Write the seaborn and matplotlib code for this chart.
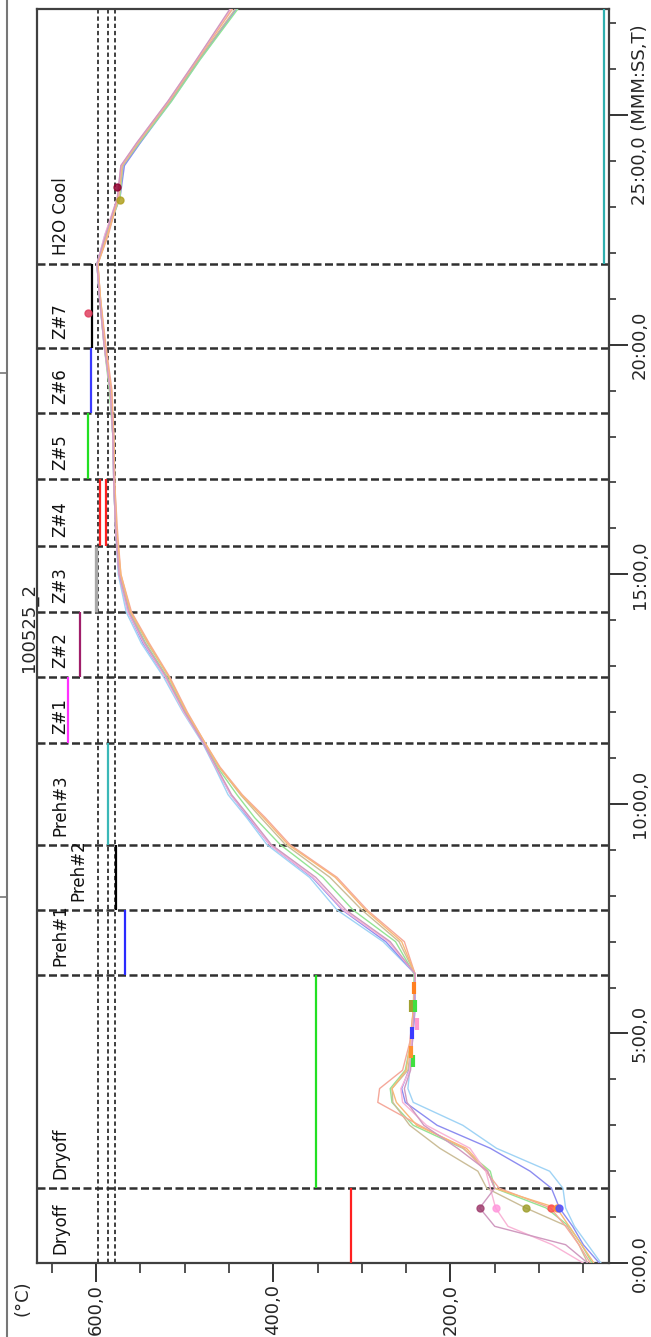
import numpy as np
import pandas as pd
import matplotlib
matplotlib.use("Agg")
import matplotlib.pyplot as plt
from matplotlib.ticker import MultipleLocator, FuncFormatter
from matplotlib.lines import Line2D
import seaborn as sns

# time axis in minutes, temperature in degC (chart is drawn turned on its side)
time_min = [0, 0.4, 0.8, 1.2, 1.63, 2.0, 2.5, 3.0, 3.5, 3.8,
            4.2, 4.8, 5.5, 6.3, 7.0, 7.69, 8.4, 9.11, 9.7, 10.2,
            10.8, 11.33, 12.0, 12.77, 13.5, 14.18, 15.0, 16.0, 17.0, 18.0,
            19.0, 20.0, 21.0, 21.76, 22.4, 23.2, 23.9, 24.4, 25.3, 26.2, 27.31]

ch_lightblue = [30, 45, 60, 70, 73, 88, 148, 186, 242, 248,
                246, 244, 241, 240, 276, 328, 359, 407, 430, 451,
                466, 480, 502, 524, 549, 566, 575, 578, 580, 581,
                584, 591, 596, 599, 590, 574, 569, 550, 515, 483, 441]
ch_blue = [32, 50, 62, 77, 86, 110, 155, 215, 251, 255,
           247, 243, 240, 240, 273, 322, 356, 404, 428, 448,
           465, 479, 500, 522, 547, 564, 574, 578, 580, 581,
           584, 590, 596, 599, 589, 573, 568, 550, 516, 484, 442]
ch_green = [40, 52, 66, 92, 150, 155, 186, 242, 266, 268,
            251, 245, 242, 241, 262, 310, 344, 392, 421, 441,
            463, 478, 499, 520, 544, 562, 573, 578, 580, 581,
            585, 591, 596, 599, 588, 573, 570, 551, 515, 483, 440]
ch_tan = [45, 55, 68, 115, 159, 169, 212, 246, 265, 266,
          248, 244, 241, 240, 258, 300, 336, 386, 414, 437,
          461, 478, 498, 518, 542, 561, 573, 577, 579, 580,
          583, 590, 595, 598, 587, 574, 570, 552, 517, 485, 443]
ch_salmon = [42, 55, 70, 87, 145, 160, 185, 235, 282, 280,
             254, 246, 242, 240, 252, 294, 328, 381, 409, 435,
             460, 477, 497, 517, 540, 560, 572, 576, 579, 580,
             582, 589, 595, 598, 586, 575, 571, 553, 518, 486, 446]
ch_orange = [38, 52, 66, 80, 150, 158, 182, 238, 261, 266,
             250, 245, 242, 240, 255, 296, 330, 383, 411, 436,
             461, 477, 498, 518, 541, 561, 572, 577, 579, 580,
             583, 590, 595, 598, 587, 575, 571, 553, 518, 486, 447]
ch_pink = [50, 85, 135, 149, 155, 160, 178, 227, 254, 256,
           246, 244, 241, 240, 270, 321, 355, 404, 427, 448,
           465, 479, 501, 522, 546, 564, 574, 578, 580, 581,
           584, 591, 596, 599, 590, 576, 572, 554, 519, 487, 448]
ch_mauve = [45, 70, 150, 167, 150, 158, 192, 230, 249, 252,
            245, 243, 241, 240, 268, 318, 352, 402, 426, 447,
            464, 479, 500, 521, 545, 563, 574, 578, 580, 581,
            584, 591, 596, 599, 589, 576, 572, 554, 519, 487, 449]

channels = {"lightblue": ch_lightblue, "blue": ch_blue, "green": ch_green,
            "tan": ch_tan, "salmon": ch_salmon, "orange": ch_orange,
            "pink": ch_pink, "mauve": ch_mauve}
channel_colors = {"lightblue": "#9fd3f5", "blue": "#8c8cf0", "green": "#94e494",
                  "tan": "#cbbd98", "salmon": "#f5a89a", "orange": "#f8b878",
                  "pink": "#f9b4d6", "mauve": "#d09ac0"}

# furnace zones
zone_names = ["Dryoff", "Dryoff", "Preh#1", "Preh#2", "Preh#3", "Z#1", "Z#2",
              "Z#3", "Z#4", "Z#5", "Z#6", "Z#7", "H2O Cool"]
zone_start = [0, 1.63, 6.28, 7.69, 9.11, 11.33, 12.77, 14.18, 15.62, 17.08,
              18.52, 19.93, 21.76]
zone_end = zone_start[1:] + [27.31]
zone_setpoint = [312, 352, 567, 577, 587, 632, 618, 600, 596, 609, 606, 605, 27]
zone_color = ["#ff2020", "#22e022", "#2a2aff", "#000000", "#3ab8b8", "#ff30ff",
              "#a01e6a", "#a8a8a8", "#ff2020", "#22e022", "#3a3aff", "#000000", "#30b0b0"]
zone_label_temp = [640, 640, 640, 620, 640, 640, 640, 640, 640, 640, 640, 640, 640]
# Z#4 has a second (lower) setpoint line
z4_low = 589

ref_temps = [598, 587, 579]

# channel marker symbols
mark_time = [1.2, 1.2, 1.2, 1.2, 1.2, 1.2, 20.7, 23.44, 23.15]
mark_temp = [167, 149, 115, 87, 80, 77, 609, 576, 573]
mark_color = ["#a04070", "#ff99dd", "#a0a030", "#ff5050", "#ff9030", "#5050ff",
              "#e04060", "#900030", "#b0a020"]
dash_time = [4.4, 4.6, 5.0, 5.2, 5.6, 5.6, 6.0]
dash_temp = [242, 245, 243, 238, 245, 240, 241]
dash_color = ["#40e040", "#ff9030", "#3a3aff", "#ff99cc", "#a0a030", "#40e040", "#ff8020"]

rows = []
for name, vals in channels.items():
    for t, v in zip(time_min, vals):
        rows.append({"ch": name, "time": t, "temp": v})
df = pd.DataFrame(rows)

sns.set_style("white")
plt.rcParams["font.family"] = ["DejaVu Sans"]

fig = plt.figure(figsize=(6.51, 13.37), dpi=100)
ax = fig.add_axes([0.0564, 0.0553, 0.8791, 0.9379])

# zone boundaries and reference temperatures
for t in zone_start[1:]:
    ax.axhline(t, color="#303030", lw=1.8, ls=(0, (3.2, 1.4)), zorder=2)
for r in ref_temps:
    ax.axvline(r, color="#303030", lw=1.3, ls=(0, (2.4, 1.6)), zorder=2)

sns.lineplot(data=df, x="temp", y="time", hue="ch", palette=channel_colors,
             estimator=None, sort=False, orient="y", lw=1.0, legend=False,
             ax=ax, zorder=3)

# setpoints
widths = [1.6] * len(zone_names)
widths[7] = 2.4
ax.vlines(zone_setpoint, zone_start, zone_end, colors=zone_color,
          linewidths=widths, zorder=4)
ax.vlines([z4_low], [zone_start[8]], [zone_end[8]], colors=zone_color[8],
          linewidths=1.6, zorder=4)

for t, v, c in zip(mark_time, mark_temp, mark_color):
    ax.plot(v, t, "o", color=c, ms=5, mec=c, alpha=0.85, zorder=5)
for t, v, c in zip(dash_time, dash_temp, dash_color):
    ax.plot(v, t, "|", color=c, ms=9, mew=3, zorder=5)

for name, s, lt in zip(zone_names, zone_start, zone_label_temp):
    ax.text(lt, s + 0.2, name, rotation=90, rotation_mode="anchor",
            ha="left", va="center", fontsize=12, color="#111111", zorder=6)

ax.set_xlim(667, 21)
ax.set_ylim(0, 27.31)

ax.xaxis.set_major_locator(MultipleLocator(200))
ax.xaxis.set_minor_locator(MultipleLocator(50))
ax.xaxis.set_major_formatter(FuncFormatter(lambda v, p: f"{v:.1f}".replace(".", ",")))


def fmt_time(m, p):
    s = f"{int(m)}:{int(round((m % 1) * 60)):02d},0"
    if abs(m - 25) < 1e-6:
        s += " (MMM:SS,T)"
    return s


ax.yaxis.set_major_locator(MultipleLocator(5))
ax.yaxis.set_minor_locator(MultipleLocator(1))
ax.yaxis.set_major_formatter(FuncFormatter(fmt_time))
ax.yaxis.tick_right()

ax.tick_params(axis="x", which="major", bottom=True, top=False, length=14, width=1.4,
               direction="out", color="#333333", labelsize=13, labelrotation=90, pad=1)
ax.tick_params(axis="x", which="minor", bottom=True, top=False, length=7, width=1.2,
               direction="out", color="#333333")
ax.tick_params(axis="y", which="major", left=False, right=True, length=14, width=1.4,
               direction="out", color="#333333", labelsize=13, pad=1.5)
ax.tick_params(axis="y", which="minor", left=False, right=True, length=5, width=1.2,
               direction="out", color="#333333")
for lab in ax.get_yticklabels():
    lab.set_rotation(90)
    lab.set_va("center")

ax.set_xlabel("")
ax.set_ylabel("")
for sp in ax.spines.values():
    sp.set_visible(True)
    sp.set_color("#404040")
    sp.set_linewidth(1.6)

ax.text(-0.0135, 0.507, "100525_2", transform=ax.transAxes, rotation=90,
        ha="center", va="center", fontsize=13)
ax.text(-0.024, -0.028, "(\u00b0C)", transform=ax.transAxes, rotation=90,
        ha="center", va="center", fontsize=13)

# page frame on the far left
fig.add_artist(Line2D([7 / 651, 7 / 651], [0, 1], color="#777777", lw=1.5))
for yy in [373, 897]:
    fig.add_artist(Line2D([0, 7 / 651], [1 - yy / 1337] * 2, color="#777777", lw=1.2))

fig.savefig("out.png", dpi=100)
